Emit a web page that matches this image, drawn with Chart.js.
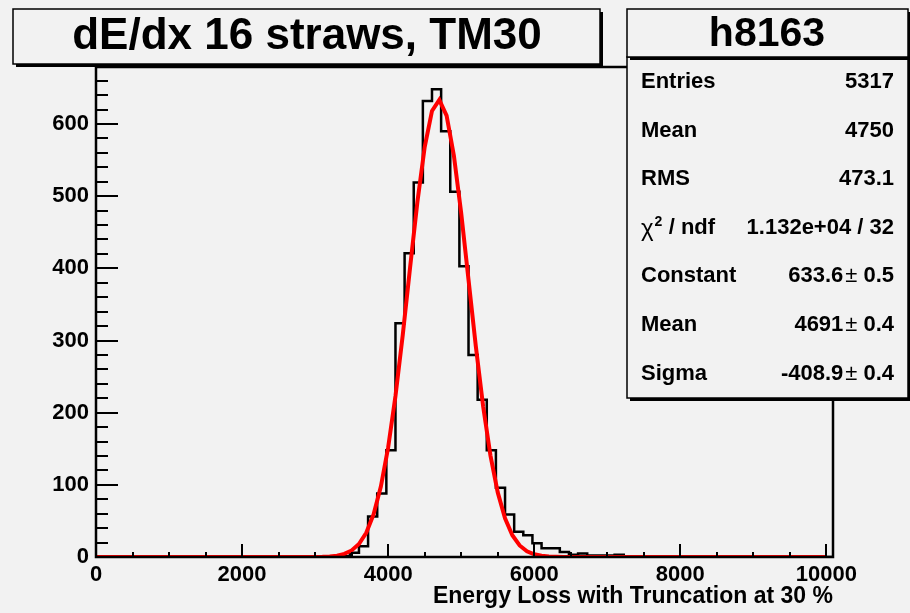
<!DOCTYPE html>
<html>
<head>
<meta charset="utf-8">
<script src="https://cdn.jsdelivr.net/npm/chart.js@4.4.0/dist/chart.umd.min.js"></script>
<style>
  html, body { margin: 0; padding: 0; background: #f2f2f2; }
  canvas { display: block; }
</style>
</head>
<body>
<canvas id="grafico" width="910" height="613"></canvas>
<script>
// Histograma h8163: cuentas por bin (ancho 125), primer bin desde 3225
const binInicio = 3225;
const binAncho = 125;
const cuentas = [0, 1, 6, 15, 56, 88, 148, 324, 421, 519, 632, 648, 590, 506, 403,
                 280, 218, 148, 96, 59, 35, 30, 19, 12, 12, 7, 3, 5, 2, 2, 2, 3,
                 1, 1, 1, 1, 0, 1];

// Curva del ajuste gaussiano (linea roja)
const ajusteX = [0, 2800, 2900, 3000, 3100, 3200, 3300, 3400, 3500, 3600, 3700, 3800,
                 3900, 4000, 4100, 4200, 4300, 4400, 4500, 4600, 4700, 4800, 4900,
                 5000, 5100, 5200, 5300, 5400, 5500, 5600, 5700, 5800, 5900, 6000,
                 6100, 6200, 6300, 6400, 6500, 10000];
const ajusteY = [0, 0.01, 0.04, 0.12, 0.33, 0.82, 1.9, 4.3, 9.1, 18.0, 33.6, 59.0,
                 97.6, 151.9, 223.0, 308.1, 401.1, 491.9, 568.1, 618.1, 633.4, 611.5,
                 556.0, 476.2, 384.2, 292.0, 209.0, 140.9, 89.5, 53.5, 30.2, 16.0,
                 8.0, 3.8, 1.7, 0.7, 0.3, 0.1, 0.04, 0];

// Etiquetas de los ejes y textos
const ticksX = [0, 2000, 4000, 6000, 8000, 10000];
const ticksY = [0, 100, 200, 300, 400, 500, 600];
const tituloGrafico = 'dE/dx 16 straws, TM30';
const tituloEjeX = 'Energy Loss with Truncation at 30 %';
const nombreHisto = 'h8163';
const estadLabels = ['Entries', 'Mean', 'RMS', 'chi2', 'Constant', 'Mean', 'Sigma'];
const estadValores = ['5317', '4750', '473.1', '1.132e+04 / 32', '633.6', '4691', '-408.9'];
const estadErrores = [null, null, null, null, '0.5', '0.4', '0.4'];

const xMax = 10090;
const yMax = 679;
const fuente = '"Liberation Sans", Arial, sans-serif';

// Arma los puntos del histograma (escalones)
const puntosHisto = [{ x: 0, y: 0 }];
cuentas.forEach((c, i) => puntosHisto.push({ x: binInicio + i * binAncho, y: c }));
puntosHisto.push({ x: binInicio + cuentas.length * binAncho, y: 0 });
puntosHisto.push({ x: xMax, y: 0 });

const puntosAjuste = ajusteX.map((x, i) => ({ x, y: ajusteY[i] }));

// Dibuja ticks hacia adentro y el marco, estilo ROOT
const ejesRoot = {
  id: 'ejesRoot',
  afterDatasetsDraw(chart) {
    const { ctx, chartArea: a, scales: { x, y } } = chart;
    ctx.save();
    ctx.strokeStyle = '#000';
    ctx.lineWidth = 2;
    ctx.beginPath();
    for (let v = 0; v <= yMax; v += 20) {
      const py = Math.round(y.getPixelForValue(v));
      const largo = v % 100 === 0 ? 22 : 12;
      ctx.moveTo(a.left, py);
      ctx.lineTo(a.left + largo, py);
    }
    for (let v = 0; v <= 10000; v += 500) {
      const px = Math.round(x.getPixelForValue(v));
      const largo = v % 2000 === 0 ? 13 : 5;
      ctx.moveTo(px, a.bottom);
      ctx.lineTo(px, a.bottom - largo);
    }
    ctx.stroke();
    ctx.lineWidth = 2.5;
    ctx.strokeRect(a.left, a.top, a.right - a.left, a.bottom - a.top);
    ctx.restore();
  },
  afterDraw(chart) {
    const { ctx } = chart;
    ctx.save();
    // titulo del eje X
    ctx.fillStyle = '#000';
    ctx.font = 'bold 23px ' + fuente;
    ctx.textAlign = 'right';
    ctx.textBaseline = 'alphabetic';
    ctx.fillText(tituloEjeX, chart.chartArea.right, 603);

    caja(ctx, 13, 9, 587, 55);
    ctx.fillStyle = '#000';
    ctx.font = 'bold 44px ' + fuente;
    ctx.textAlign = 'center';
    ctx.textBaseline = 'middle';
    ctx.fillText(tituloGrafico, 307, 37);

    caja(ctx, 627, 57, 281, 341);
    caja(ctx, 627, 9, 281, 48);
    ctx.fillStyle = '#000';
    ctx.font = 'bold 41px ' + fuente;
    ctx.fillText(nombreHisto, 767, 35);

    // filas de estadisticas
    const izq = 641, der = 894;
    estadLabels.forEach((lab, i) => {
      const yc = 82 + i * 48.6;
      ctx.textBaseline = 'middle';
      ctx.textAlign = 'left';
      if (lab === 'chi2') {
        ctx.font = '24px ' + fuente;
        ctx.fillText('χ', izq, yc + 2);
        const wChi = ctx.measureText('χ').width;
        ctx.font = 'bold 14px ' + fuente;
        ctx.fillText('2', izq + wChi + 1, yc - 6);
        ctx.font = 'bold 22px ' + fuente;
        ctx.fillText(' / ndf', izq + wChi + 9, yc);
      } else {
        ctx.font = 'bold 22px ' + fuente;
        ctx.fillText(lab, izq, yc);
      }
      ctx.textAlign = 'right';
      let xr = der;
      if (estadErrores[i]) {
        ctx.font = 'bold 22px ' + fuente;
        ctx.fillText(estadErrores[i], xr, yc);
        xr -= ctx.measureText(estadErrores[i]).width + 6;
        ctx.font = '22px ' + fuente;
        ctx.fillText('±', xr, yc);
        xr -= ctx.measureText('±').width + 2;
      }
      ctx.font = 'bold 22px ' + fuente;
      ctx.fillText(estadValores[i], xr, yc);
    });
    ctx.restore();
  }
};

// Caja con sombra, como los TPave de ROOT
function caja(ctx, x, y, w, h) {
  ctx.fillStyle = '#000';
  ctx.fillRect(x + 3, y + h, w, 3);
  ctx.fillRect(x + w, y + 3, 3, h);
  ctx.fillStyle = '#f2f2f2';
  ctx.fillRect(x, y, w, h);
  ctx.strokeStyle = '#000';
  ctx.lineWidth = 1.5;
  ctx.strokeRect(x, y, w, h);
}

const fondo = {
  id: 'fondo',
  beforeDraw(chart) {
    const { ctx } = chart;
    ctx.save();
    ctx.fillStyle = '#f2f2f2';
    ctx.fillRect(0, 0, chart.width, chart.height);
    ctx.restore();
  }
};

new Chart(document.getElementById('grafico').getContext('2d'), {
  type: 'line',
  data: {
    datasets: [
      {
        label: 'gaus',
        data: puntosAjuste,
        borderColor: '#ff0000',
        borderWidth: 4,
        pointRadius: 0,
        tension: 0,
        order: 0
      },
      {
        label: nombreHisto,
        data: puntosHisto,
        borderColor: '#000',
        borderWidth: 2.5,
        pointRadius: 0,
        stepped: true,
        order: 1
      }
    ]
  },
  options: {
    responsive: false,
    animation: false,
    events: [],
    layout: { padding: { top: 67, right: 77, left: 0, bottom: 0 } },
    plugins: { legend: { display: false }, tooltip: { enabled: false }, title: { display: false } },
    scales: {
      x: {
        type: 'linear',
        min: 0,
        max: xMax,
        grid: { display: false, drawTicks: false },
        border: { display: false },
        ticks: {
          stepSize: 2000,
          includeBounds: false,
          autoSkip: false,
          maxRotation: 0,
          padding: 5,
          color: '#000',
          font: { family: fuente, size: 22, weight: 'bold' },
          callback: v => String(v)
        },
        afterBuildTicks: s => { s.ticks = ticksX.map(v => ({ value: v })); },
        afterFit: s => { s.height = 56; }
      },
      y: {
        type: 'linear',
        min: 0,
        max: yMax,
        grid: { display: false, drawTicks: false },
        border: { display: false },
        ticks: {
          stepSize: 100,
          includeBounds: false,
          padding: 7,
          color: '#000',
          font: { family: fuente, size: 22, weight: 'bold' },
          callback: v => String(v)
        },
        afterBuildTicks: s => { s.ticks = ticksY.map(v => ({ value: v })); },
        afterFit: s => { s.width = 96; }
      }
    }
  },
  plugins: [fondo, ejesRoot]
});
</script>
</body>
</html>
